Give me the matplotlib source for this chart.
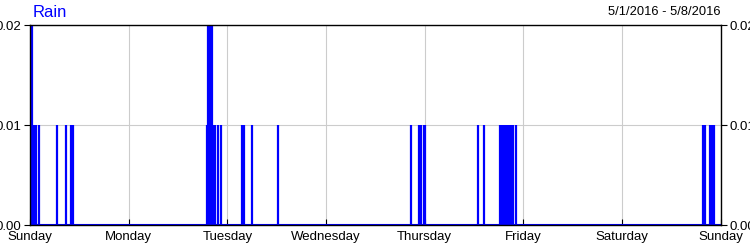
import matplotlib
matplotlib.use("Agg")
import matplotlib.pyplot as plt

plt.rcParams['font.family'] = ['Liberation Sans', 'DejaVu Sans']

# hours since 5/1/2016 00:00 and rain amount (in)
hours = [0.25, 0.5, 0.75, 1.0, 1.2, 1.45, 2.2, 6.6, 8.75, 10.0, 10.2, 10.45,
         43.0, 43.3, 43.5, 43.8, 44.0, 44.3, 44.5, 44.75, 45.0, 45.7, 46.45,
         51.6, 51.8, 52.0, 54.0, 60.3,
         92.7, 94.6, 95.1, 95.8, 96.1, 109.0, 110.4,
         114.3, 114.5, 114.8, 115.3, 115.55, 115.8, 116.05, 116.3, 116.55,
         116.8, 117.05, 117.3, 117.5, 118.2,
         163.7, 164.2, 165.4, 165.65, 165.9, 166.1, 166.3]
rain = [0.02, 0.02, 0.01, 0.01, 0.01, 0.01, 0.01, 0.01, 0.01, 0.01, 0.01, 0.01,
        0.01, 0.02, 0.02, 0.02, 0.02, 0.02, 0.01, 0.01, 0.01, 0.01, 0.01,
        0.01, 0.01, 0.01, 0.01, 0.01,
        0.01, 0.01, 0.01, 0.01, 0.01, 0.01, 0.01,
        0.01, 0.01, 0.01, 0.01, 0.01, 0.01, 0.01, 0.01, 0.01,
        0.01, 0.01, 0.01, 0.01, 0.01,
        0.01, 0.01, 0.01, 0.01, 0.01, 0.01, 0.01]
days = ["Sunday", "Monday", "Tuesday", "Wednesday", "Thursday", "Friday", "Saturday", "Sunday"]
yticks = [0.0, 0.01, 0.02]

fig = plt.figure(figsize=(7.5, 2.5), dpi=100)
ax = fig.add_axes([0.04, 0.1, 0.921, 0.8])

ax.vlines(hours, 0, rain, color="#0000ff", lw=1.6)
ax.axhline(0, color="#0000ff", lw=1.5)

ax.set_xlim(0, 168)
ax.set_ylim(0, 0.02)
ax.set_xticks([24 * i for i in range(len(days))])
ax.set_xticklabels(days)
ax.set_yticks(yticks)
ax.set_yticklabels(["%.2f" % v for v in yticks])
ax.grid(True, color="#cccccc", lw=0.8)
ax.set_axisbelow(True)
ax.tick_params(axis="x", direction="in", length=4, labelsize=9.5, pad=4)
ax.tick_params(axis="y", direction="out", length=4, labelsize=9.5, pad=2,
               right=True, labelright=True)
for s in ax.spines.values():
    s.set_color("black")
    s.set_linewidth(1)

fig.text(0.044, 0.95, "Rain", color="#0000ff", fontsize=12, va="center")
fig.text(0.96, 0.952, "5/1/2016 - 5/8/2016", color="black", fontsize=9.3, va="center", ha="right")

fig.savefig("out.png", dpi=100)
